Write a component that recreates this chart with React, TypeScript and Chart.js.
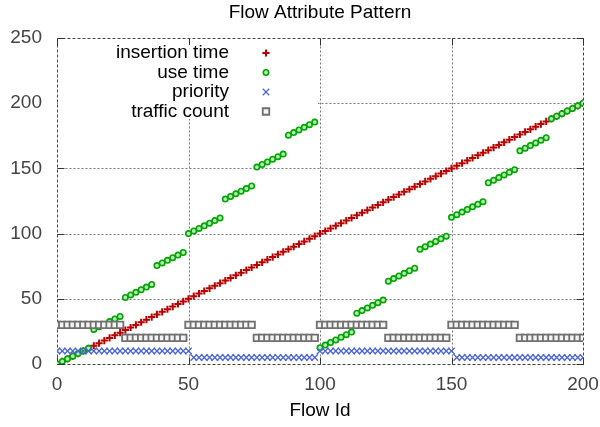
import React, { useEffect, useRef } from 'react';
import { Chart, registerables } from 'chart.js';
import { drawPoint } from 'chart.js/helpers';

Chart.register(...registerables);

const chartTitle = 'Flow Attribute Pattern';
const xAxisTitle = 'Flow Id';
const xTickValues = [0, 50, 100, 150, 200];
const yTickValues = [0, 50, 100, 150, 200, 250];
const seriesLabels = ['insertion time', 'use time', 'priority', 'traffic count'];

const flowIds = [
  0, 2, 4, 6, 8, 10, 12, 14, 16, 18, 20, 22, 24, 26, 28, 30, 32, 34, 36, 38, 40, 42, 44, 46, 48,
  50, 52, 54, 56, 58, 60, 62, 64, 66, 68, 70, 72, 74, 76, 78, 80, 82, 84, 86, 88, 90, 92, 94, 96, 98,
  100, 102, 104, 106, 108, 110, 112, 114, 116, 118, 120, 122, 124, 126, 128, 130, 132, 134, 136, 138, 140, 142, 144, 146, 148,
  150, 152, 154, 156, 158, 160, 162, 164, 166, 168, 170, 172, 174, 176, 178, 180, 182, 184, 186, 188, 190, 192, 194, 196, 198, 200,
];

const insertionTime = [
  0, 2, 4, 6, 8, 10, 12, 14, 16, 18, 20, 22, 24, 26, 28, 30, 32, 34, 36, 38, 40, 42, 44, 46, 48,
  50, 52, 54, 56, 58, 60, 62, 64, 66, 68, 70, 72, 74, 76, 78, 80, 82, 84, 86, 88, 90, 92, 94, 96, 98,
  100, 102, 104, 106, 108, 110, 112, 114, 116, 118, 120, 122, 124, 126, 128, 130, 132, 134, 136, 138, 140, 142, 144, 146, 148,
  150, 152, 154, 156, 158, 160, 162, 164, 166, 168, 170, 172, 174, 176, 178, 180, 182, 184, 186, 188, 190, 192, 194, 196, 198, 200,
];

const useTime = [
  0, 2, 4, 6, 8, 10, 12,
  26.5, 28.5, 30.5, 32.5, 34.5, 36.5,
  51, 53, 55, 57, 59, 61,
  75.5, 77.5, 79.5, 81.5, 83.5, 85.5,
  100, 102, 104, 106, 108, 110, 112,
  126.5, 128.5, 130.5, 132.5, 134.5, 136.5,
  151, 153, 155, 157, 159, 161,
  175.5, 177.5, 179.5, 181.5, 183.5, 185.5,
  12.5, 14.5, 16.5, 18.5, 20.5, 22.5, 24.5,
  39, 41, 43, 45, 47, 49,
  63.5, 65.5, 67.5, 69.5, 71.5, 73.5,
  88, 90, 92, 94, 96, 98,
  112.5, 114.5, 116.5, 118.5, 120.5, 122.5, 124.5,
  139, 141, 143, 145, 147, 149,
  163.5, 165.5, 167.5, 169.5, 171.5, 173.5,
  188, 190, 192, 194, 196, 198, 200,
];

const priority = [
  10, 10, 10, 10, 10, 10, 10, 10, 10, 10, 10, 10, 10, 10, 10, 10, 10, 10, 10, 10, 10, 10, 10, 10, 10, 10,
  5, 5, 5, 5, 5, 5, 5, 5, 5, 5, 5, 5, 5, 5, 5, 5, 5, 5, 5, 5, 5, 5, 5, 5,
  10, 10, 10, 10, 10, 10, 10, 10, 10, 10, 10, 10, 10, 10, 10, 10, 10, 10, 10, 10, 10, 10, 10, 10, 10, 10,
  5, 5, 5, 5, 5, 5, 5, 5, 5, 5, 5, 5, 5, 5, 5, 5, 5, 5, 5, 5, 5, 5, 5, 5, 5,
];

const trafficCount = [
  30, 30, 30, 30, 30, 30, 30, 30, 30, 30, 30, 30, 30,
  20, 20, 20, 20, 20, 20, 20, 20, 20, 20, 20, 20,
  30, 30, 30, 30, 30, 30, 30, 30, 30, 30, 30, 30, 30,
  20, 20, 20, 20, 20, 20, 20, 20, 20, 20, 20, 20,
  30, 30, 30, 30, 30, 30, 30, 30, 30, 30, 30, 30, 30,
  20, 20, 20, 20, 20, 20, 20, 20, 20, 20, 20, 20,
  30, 30, 30, 30, 30, 30, 30, 30, 30, 30, 30, 30, 30,
  20, 20, 20, 20, 20, 20, 20, 20, 20, 20, 20, 20, 20,
];

const FONT = '"Liberation Sans", Arial, sans-serif';
const FONT_SIZE = 19;

const seriesStyles: any[] = [
  { pointStyle: 'cross', radius: 3.6, borderWidth: 2, borderColor: '#b80000', backgroundColor: '#b80000' },
  { pointStyle: 'circle', radius: 2.7, borderWidth: 1.6, borderColor: '#00a400', backgroundColor: '#b4ecb4' },
  { pointStyle: 'crossRot', radius: 4.6, borderWidth: 1.3, borderColor: '#4d66d6', backgroundColor: '#4d66d6' },
  { pointStyle: 'rect', radius: 4.6, borderWidth: 1.8, borderColor: '#707070', backgroundColor: '#f4f4f4' },
];

const seriesValues = [insertionTime, useTime, priority, trafficCount];

const framePlugin = {
  id: 'gnuFrame',
  beforeDatasetsDraw(chart: any) {
    const { ctx, chartArea: a, scales } = chart;
    const xs = scales.x;
    const ys = scales.y;
    const L = Math.round(a.left) + 0.5;
    const R = Math.round(a.right) + 0.5;
    const T = Math.round(a.top) + 0.5;
    const B = Math.round(a.bottom) + 0.5;
    ctx.save();
    ctx.strokeStyle = '#7a7a7a';
    ctx.lineWidth = 1;
    ctx.setLineDash([2, 2]);
    xTickValues.slice(1, -1).forEach((v) => {
      const px = Math.round(xs.getPixelForValue(v)) + 0.5;
      ctx.beginPath();
      ctx.moveTo(px, T);
      ctx.lineTo(px, B);
      ctx.stroke();
    });
    yTickValues.slice(1, -1).forEach((v) => {
      const py = Math.round(ys.getPixelForValue(v)) + 0.5;
      ctx.beginPath();
      ctx.moveTo(L, py);
      ctx.lineTo(R, py);
      ctx.stroke();
    });
    ctx.strokeStyle = '#444';
    ctx.setLineDash([3, 2]);
    ctx.strokeRect(L, T, R - L, B - T);
    ctx.setLineDash([]);
    ctx.strokeStyle = '#333';
    const tl = 7;
    xTickValues.forEach((v) => {
      const px = Math.round(xs.getPixelForValue(v)) + 0.5;
      ctx.beginPath();
      ctx.moveTo(px, B);
      ctx.lineTo(px, B - tl);
      ctx.moveTo(px, T);
      ctx.lineTo(px, T + tl);
      ctx.stroke();
    });
    yTickValues.forEach((v) => {
      const py = Math.round(ys.getPixelForValue(v)) + 0.5;
      ctx.beginPath();
      ctx.moveTo(L, py);
      ctx.lineTo(L + tl, py);
      ctx.moveTo(R, py);
      ctx.lineTo(R - tl, py);
      ctx.stroke();
    });
    ctx.fillStyle = '#ffffff';
    ctx.fillRect(a.left + 1, a.top + 7, 260, 74);
    ctx.fillStyle = '#000';
    ctx.font = `${FONT_SIZE}px ${FONT}`;
    ctx.textAlign = 'center';
    ctx.textBaseline = 'middle';
    const cx = (a.left + a.right) / 2;
    ctx.fillText(chartTitle, cx, 13);
    ctx.fillText(xAxisTitle, cx, 411);
    ctx.restore();
  },
  afterDatasetsDraw(chart: any) {
    const { ctx, chartArea: a } = chart;
    ctx.save();
    ctx.font = `${FONT_SIZE}px ${FONT}`;
    ctx.textAlign = 'right';
    ctx.textBaseline = 'middle';
    seriesLabels.forEach((label, i) => {
      const y = a.top + 15 + i * 19.5;
      ctx.fillStyle = '#000';
      ctx.fillText(label, a.left + 172, y);
      const st = seriesStyles[i];
      ctx.strokeStyle = st.borderColor;
      ctx.fillStyle = st.backgroundColor;
      ctx.lineWidth = st.borderWidth;
      drawPoint(ctx, { pointStyle: st.pointStyle, radius: st.radius, rotation: 0, borderWidth: st.borderWidth }, a.left + 209, y);
    });
    ctx.restore();
  },
};

export default function App() {
  const canvasRef = useRef<HTMLCanvasElement | null>(null);

  useEffect(() => {
    const canvas = canvasRef.current;
    if (!canvas) return;
    const datasets = seriesLabels.map((label, i) => {
      const st = seriesStyles[i];
      return {
        label,
        data: flowIds.map((x, j) => ({ x, y: seriesValues[i][j] })),
        pointStyle: st.pointStyle,
        pointRadius: st.radius,
        pointBorderWidth: st.borderWidth,
        pointBorderColor: st.borderColor,
        pointBackgroundColor: st.backgroundColor,
        borderColor: st.borderColor,
        backgroundColor: st.backgroundColor,
        showLine: false,
        order: 4 - i,
      };
    });
    const chart = new Chart(canvas, {
      type: 'scatter',
      data: { datasets },
      plugins: [framePlugin],
      options: {
        responsive: false,
        animation: false,
        events: [],
        layout: { padding: { left: 0, right: 17, top: 38, bottom: 0 } },
        plugins: { legend: { display: false }, title: { display: false }, tooltip: { enabled: false } },
        scales: {
          x: {
            type: 'linear',
            min: 0,
            max: 200,
            grid: { display: false },
            border: { display: false },
            afterFit: (s: any) => { s.height = 63; },
            afterBuildTicks: (s: any) => { s.ticks = xTickValues.map((v) => ({ value: v })); },
            ticks: { padding: 1, color: '#444', font: { family: FONT, size: FONT_SIZE }, maxRotation: 0 },
          },
          y: {
            type: 'linear',
            min: 0,
            max: 250,
            grid: { display: false },
            border: { display: false },
            afterFit: (s: any) => { s.width = 57; },
            afterBuildTicks: (s: any) => { s.ticks = yTickValues.map((v) => ({ value: v })); },
            ticks: { padding: 7, color: '#444', font: { family: FONT, size: FONT_SIZE } },
          },
        },
      } as any,
    });
    return () => chart.destroy();
  }, []);

  return (
    <div style={{ position: 'absolute', left: 0, top: 0, width: 600, height: 427, background: '#fff' }}>
      <canvas ref={canvasRef} width={600} height={427} style={{ display: 'block' }} />
    </div>
  );
}
